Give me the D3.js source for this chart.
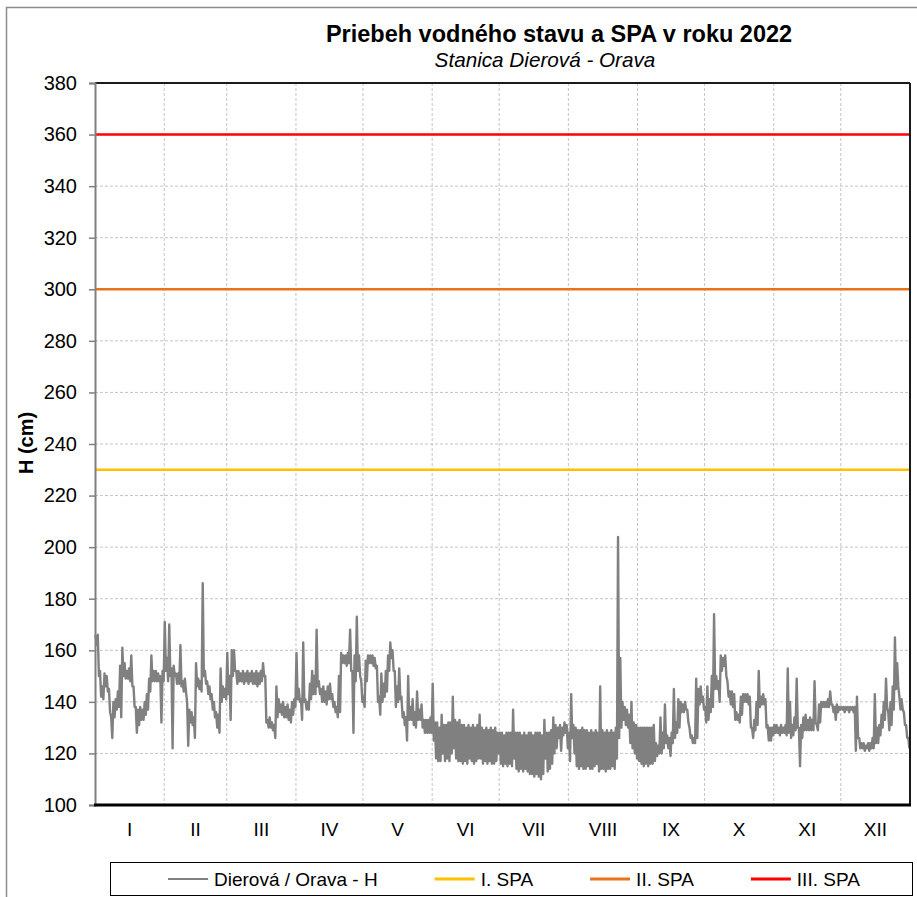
<!DOCTYPE html>
<html>
<head>
<meta charset="utf-8">
<script src="https://cdn.jsdelivr.net/npm/d3@7"></script>
<style>
  body { margin: 0; background: #fff; }
  text { font-family: "Liberation Sans", Arial, sans-serif; fill: #000; }
</style>
</head>
<body>
<div id="chart"></div>
<script>
// Texts
const title = "Priebeh vodného stavu a SPA v roku 2022";
const subtitle = "Stanica Dierová - Orava";
const yTitle = "H (cm)";
const monthLabels = ["I", "II", "III", "IV", "V", "VI", "VII", "VIII", "IX", "X", "XI", "XII"];
const yTickValues = [100, 120, 140, 160, 180, 200, 220, 240, 260, 280, 300, 320, 340, 360, 380];

// SPA levels (flood activity degrees)
const spaNames = ["I. SPA", "II. SPA", "III. SPA"];
const spaValues = [230, 300, 360];
const spaColors = ["#FFC000", "#E8731A", "#FF0000"];
const seriesName = "Dierová / Orava - H";

// Daily max / min of water level H (cm), 1.1.2022 - 31.12.2022
const hMax = [
  // I
  166,166,152,146,151,150,145,134,140,141,144,154,161,155,152,153,158,146,138,137,138,137,140,143,149,158,152,152,151,150,152,
  // II
  171,157,170,153,154,151,151,162,148,149,140,137,136,134,155,149,148,186,152,148,146,143,140,136,135,153,146,145,
  // III
  159,150,160,160,152,152,151,152,151,152,151,152,151,152,151,152,155,150,133,134,132,131,146,141,139,140,138,139,137,140,141,
  // IV
  159,145,141,163,141,140,147,152,150,168,148,145,146,144,146,147,143,140,138,150,159,158,158,159,168,152,158,173,158,148,
  // V
  142,156,158,158,158,157,154,142,151,147,152,158,163,160,152,146,153,142,136,134,150,138,141,136,144,137,139,133,133,133,134,
  // VI
  147,132,132,130,135,131,131,132,132,142,133,132,133,131,131,130,131,130,131,130,131,135,130,129,130,129,130,129,130,128,
  // VII
  128,128,127,128,128,128,137,128,128,128,127,128,127,128,128,127,128,128,128,127,133,128,128,129,134,131,130,131,130,132,131,
  // VIII
  128,143,131,130,129,129,130,129,129,128,129,128,129,128,146,129,128,129,128,129,128,130,204,157,140,138,137,135,140,132,131,
  // IX
  130,130,130,130,130,130,130,131,124,123,134,128,139,127,126,128,145,132,141,140,139,140,137,130,127,126,149,145,146,142,
  // X
  138,146,141,150,174,150,148,158,157,158,148,144,144,143,136,135,142,143,143,143,142,130,133,140,152,142,143,141,131,130,130,
  // XI
  131,131,130,131,130,131,153,140,131,134,149,130,131,134,135,133,134,133,148,131,139,140,140,140,141,144,139,138,139,138,
  // XII
  138,138,138,138,138,138,138,142,126,124,124,123,124,124,126,143,130,131,135,140,149,136,140,146,165,155,142,141,136,131,126
];
const hMin = [
  // I
  162,150,142,141,146,144,136,126,134,137,138,134,150,149,149,148,146,138,128,131,133,133,135,137,144,148,148,148,148,132,148,
  // II
  152,148,150,122,150,147,147,146,144,144,123,132,131,126,146,145,144,150,147,143,141,137,134,130,128,140,142,141,
  // III
  143,133,150,152,147,148,148,147,148,147,148,147,147,146,147,148,150,132,130,130,129,126,134,136,135,134,134,133,132,135,138,
  // IV
  141,140,133,140,137,137,141,143,143,146,143,140,140,139,141,141,138,136,134,136,155,155,154,155,152,128,148,152,150,140,
  // V
  138,148,155,155,154,153,140,135,140,142,144,152,157,152,138,140,141,134,131,125,133,133,131,130,133,133,130,128,128,128,128,
  // VI
  125,118,117,117,120,117,118,117,120,122,118,117,117,116,117,116,118,117,116,117,118,118,116,117,116,117,116,116,117,120,
  // VII
  116,115,116,115,116,115,118,114,113,114,113,114,113,112,112,111,112,111,110,112,118,113,114,116,120,122,126,121,127,128,122,
  // VIII
  117,126,120,115,114,115,114,114,115,114,114,115,116,113,114,114,113,114,114,115,114,118,126,130,133,131,130,124,122,120,118,
  // IX
  117,116,115,116,115,116,116,117,119,120,120,122,124,122,119,124,126,128,130,136,136,137,132,126,124,124,126,139,140,137,
  // X
  132,133,136,138,145,145,140,152,154,150,142,139,138,133,133,132,135,140,140,139,130,126,129,131,138,139,139,130,125,125,127,
  // XI
  128,128,127,128,128,127,128,126,127,129,130,115,126,129,129,129,129,129,132,129,132,138,138,138,138,139,136,133,136,137,
  // XII
  137,136,137,136,137,136,121,126,122,122,121,122,121,122,122,124,124,127,130,133,138,129,131,137,145,146,137,137,131,126,122
];

// Layout
const W = 917, H = 897;
const plot = { left: 95, right: 910, top: 83, bottom: 805 };

const svg = d3.select("#chart")
  .append("svg")
  .attr("width", W)
  .attr("height", H)
  .attr("viewBox", `0 0 ${W} ${H}`);

// Outer chart frame
svg.append("rect")
  .attr("x", 6.5).attr("y", 7.5)
  .attr("width", W + 10).attr("height", H + 10)
  .attr("fill", "#fff")
  .attr("stroke", "#8c8c8c")
  .attr("stroke-width", 1.5);

// Scales
const day0 = Date.UTC(2022, 0, 1);
const dayMs = 864e5;
const xScale = d3.scaleUtc()
  .domain([new Date(day0), new Date(Date.UTC(2023, 0, 1))])
  .range([plot.left, plot.right]);
const yScale = d3.scaleLinear()
  .domain([100, 380])
  .range([plot.bottom, plot.top]);

// Horizontal gridlines
svg.append("g")
  .selectAll("line")
  .data(yTickValues.slice(1, -1))
  .join("line")
  .attr("x1", plot.left).attr("x2", plot.right)
  .attr("y1", d => yScale(d)).attr("y2", d => yScale(d))
  .attr("stroke", "#c4c4c4")
  .attr("stroke-width", 1)
  .attr("stroke-dasharray", "3,2");

// Vertical gridlines at month starts
const monthStarts = d3.utcMonth.range(new Date(day0), new Date(Date.UTC(2023, 0, 1)));
svg.append("g")
  .selectAll("line")
  .data(monthStarts.slice(1))
  .join("line")
  .attr("x1", d => xScale(d)).attr("x2", d => xScale(d))
  .attr("y1", plot.top).attr("y2", plot.bottom)
  .attr("stroke", "#c4c4c4")
  .attr("stroke-width", 1)
  .attr("stroke-dasharray", "3,2");

// SPA lines
svg.append("g")
  .selectAll("line")
  .data(spaValues)
  .join("line")
  .attr("x1", plot.left).attr("x2", plot.right)
  .attr("y1", d => yScale(d)).attr("y2", d => yScale(d))
  .attr("stroke", (d, i) => spaColors[i])
  .attr("stroke-width", 2.5);

// Water level series: max and min of each day in turn
const points = [];
hMax.forEach((v, i) => {
  points.push({ t: new Date(day0 + (i + 0.25) * dayMs), v: v });
  points.push({ t: new Date(day0 + (i + 0.75) * dayMs), v: hMin[i] });
});

const line = d3.line()
  .x(d => xScale(d.t))
  .y(d => yScale(d.v));

svg.append("path")
  .datum(points)
  .attr("fill", "none")
  .attr("stroke", "#808080")
  .attr("stroke-width", 2.4)
  .attr("stroke-linejoin", "round")
  .attr("d", line);

// Plot border: top/right dark, left axis gray
svg.append("line")
  .attr("x1", plot.left).attr("x2", plot.right)
  .attr("y1", plot.top).attr("y2", plot.top)
  .attr("stroke", "#1a1a1a").attr("stroke-width", 2);
svg.append("line")
  .attr("x1", plot.right).attr("x2", plot.right)
  .attr("y1", plot.top).attr("y2", plot.bottom)
  .attr("stroke", "#1a1a1a").attr("stroke-width", 2);

// Y axis
const yAxis = svg.append("g")
  .attr("transform", `translate(${plot.left},0)`)
  .call(d3.axisLeft(yScale).tickValues(yTickValues).tickSize(6).tickPadding(12));
yAxis.select(".domain").attr("stroke", "#808080").attr("stroke-width", 2);
yAxis.selectAll(".tick line").attr("stroke", "#808080").attr("stroke-width", 1.5);
yAxis.selectAll(".tick text")
  .attr("font-size", 20)
  .attr("font-family", "'Liberation Sans', Arial, sans-serif")
  .attr("fill", "#000");

// X axis (bottom line + month labels)
svg.append("line")
  .attr("x1", plot.left - 1).attr("x2", plot.right + 1)
  .attr("y1", plot.bottom).attr("y2", plot.bottom)
  .attr("stroke", "#000").attr("stroke-width", 3);

svg.append("g")
  .selectAll("text")
  .data(monthStarts)
  .join("text")
  .attr("x", d => (xScale(d) + xScale(d3.utcMonth.offset(d, 1))) / 2)
  .attr("y", 836)
  .attr("text-anchor", "middle")
  .attr("font-size", 19)
  .text((d, i) => monthLabels[i]);

// Titles
svg.append("text")
  .attr("x", 559).attr("y", 42)
  .attr("text-anchor", "middle")
  .attr("font-size", 23.5)
  .attr("font-weight", "bold")
  .text(title);
svg.append("text")
  .attr("x", 545).attr("y", 67)
  .attr("text-anchor", "middle")
  .attr("font-size", 20.7)
  .attr("font-style", "italic")
  .text(subtitle);

svg.append("text")
  .attr("transform", "translate(33,443) rotate(-90)")
  .attr("text-anchor", "middle")
  .attr("font-size", 20)
  .attr("font-weight", "bold")
  .text(yTitle);

// Legend
const legendItems = [{ name: seriesName, color: "#808080" }]
  .concat(spaNames.map((n, i) => ({ name: n, color: spaColors[i] })));

const legend = svg.append("g");
legend.append("rect")
  .attr("x", 110.5).attr("y", 862.5)
  .attr("width", 802).attr("height", 33)
  .attr("fill", "#fff")
  .attr("stroke", "#000")
  .attr("stroke-width", 1);

let lx = 168;
legendItems.forEach((item, i) => {
  legend.append("line")
    .attr("x1", lx).attr("x2", lx + 40)
    .attr("y1", 879).attr("y2", 879)
    .attr("stroke", item.color)
    .attr("stroke-width", i === 0 ? 2 : 3);
  const t = legend.append("text")
    .attr("x", lx + 46).attr("y", 886)
    .attr("font-size", 19)
    .text(item.name);
  lx += 46 + t.node().getComputedTextLength() + 57;
});
</script>
</body>
</html>
